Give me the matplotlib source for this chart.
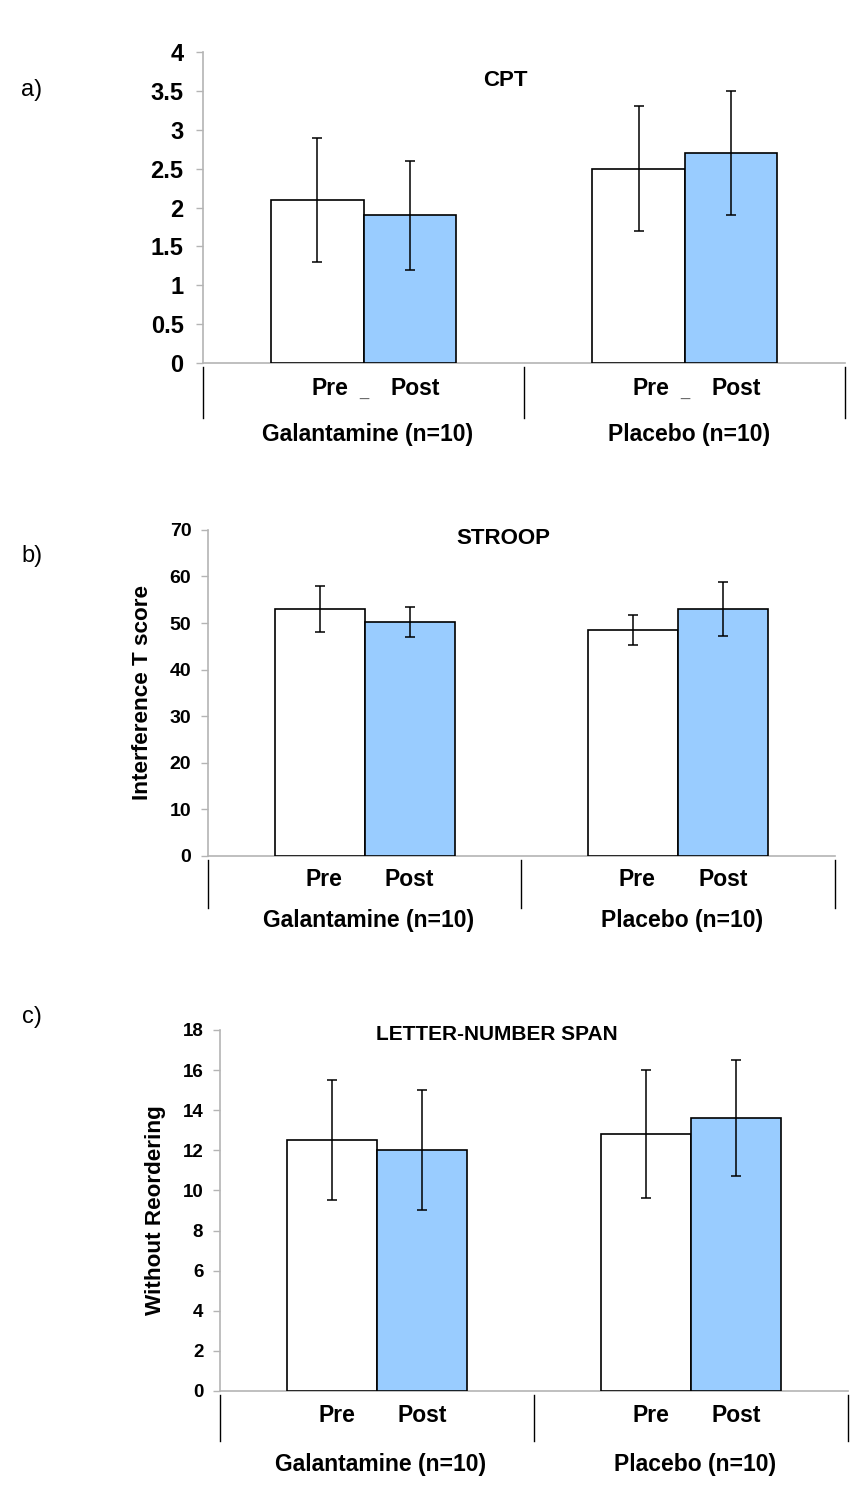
import matplotlib
matplotlib.use("Agg")
import matplotlib.pyplot as plt
import matplotlib.transforms as mtransforms
import numpy as np

plt.rcParams['font.family'] = ['Liberation Sans', 'DejaVu Sans']

groups = ["Galantamine (n=10)", "Placebo (n=10)"]
conditions = ["Pre", "Post"]

cpt_pre = [2.1, 2.5]
cpt_post = [1.9, 2.7]
cpt_pre_err = [0.8, 0.8]
cpt_post_err = [0.7, 0.8]

stroop_pre = [53.0, 48.5]
stroop_post = [50.3, 53.1]
stroop_pre_err = [5.0, 3.3]
stroop_post_err = [3.2, 5.8]

lns_pre = [12.5, 12.8]
lns_post = [12.0, 13.6]
lns_pre_err = [3.0, 3.2]
lns_post_err = [3.0, 2.9]

panels = [
    dict(title="CPT", pre=cpt_pre, post=cpt_post, pre_err=cpt_pre_err, post_err=cpt_post_err,
         ylim=(0, 4), yticks=[0, 0.5, 1, 1.5, 2, 2.5, 3, 3.5, 4],
         yticklabels=["0", "0.5", "1", "1.5", "2", "2.5", "3", "3.5", "4"],
         ylabel=None, rect=[0.2366, 0.7593, 0.7484, 0.2062], tick_fs=17, tick_pad=9,
         letter="a)", letter_y=90, title_x=505, title_y=80, title_fs=16, sep="_",
         cond_dy=26, grp_dy=72, sep_len=55, pre_dx=12, post_dx=6, grp_dx=4),
    dict(title="STROOP", pre=stroop_pre, post=stroop_post, pre_err=stroop_pre_err, post_err=stroop_post_err,
         ylim=(0, 70), yticks=list(range(0, 71, 10)),
         yticklabels=[str(v) for v in range(0, 71, 10)],
         ylabel="Interference T score", ylabel_x=143, rect=[0.2424, 0.4324, 0.7308, 0.2162],
         tick_fs=14, tick_pad=7,
         letter="b)", letter_y=556, title_x=503, title_y=538, title_fs=16, sep=None,
         cond_dy=24, grp_dy=65, sep_len=52, pre_dx=4, post_dx=0, grp_dx=4),
    dict(title="LETTER-NUMBER SPAN", pre=lns_pre, post=lns_post, pre_err=lns_pre_err, post_err=lns_post_err,
         ylim=(0, 18), yticks=list(range(0, 19, 2)),
         yticklabels=[str(v) for v in range(0, 19, 2)],
         ylabel="Without Reordering", ylabel_x=156, rect=[0.2564, 0.0776, 0.7319, 0.2394],
         tick_fs=13.5, tick_pad=7,
         letter="c)", letter_y=1017, title_x=497, title_y=1034, title_fs=15, sep=None,
         cond_dy=25, grp_dy=74, sep_len=50, pre_dx=5, post_dx=0, grp_dx=4),
]

W, H = 858, 1508
fig = plt.figure(figsize=(W / 100, H / 100), dpi=100)

gray = "#b4b4b4"
blue = "#99ccff"
bw = 0.287
centers = np.array([0.5, 1.5])

for p in panels:
    ax = fig.add_axes(p["rect"])
    ax.bar(centers - bw / 2, p["pre"], width=bw, color="white", edgecolor="black", linewidth=1.2, zorder=3)
    ax.bar(centers + bw / 2, p["post"], width=bw, color=blue, edgecolor="black", linewidth=1.2, zorder=3)
    ax.errorbar(centers - bw / 2, p["pre"], yerr=p["pre_err"], fmt="none", ecolor="black",
                elinewidth=1.1, capsize=3.6, capthick=1.1, zorder=4)
    ax.errorbar(centers + bw / 2, p["post"], yerr=p["post_err"], fmt="none", ecolor="black",
                elinewidth=1.1, capsize=3.6, capthick=1.1, zorder=4)
    ax.set_xlim(0, 2)
    ax.set_ylim(*p["ylim"])
    ax.set_yticks(p["yticks"])
    ax.set_yticklabels(p["yticklabels"], fontsize=p["tick_fs"], fontweight="bold")
    ax.tick_params(axis="y", direction="out", length=5, color=gray, width=1, pad=p["tick_pad"])
    ax.set_xticks([])
    for s in ["top", "right"]:
        ax.spines[s].set_visible(False)
    ax.spines["left"].set_color(gray)
    ax.spines["bottom"].set_color(gray)
    ax.spines["left"].set_linewidth(1.2)
    ax.spines["bottom"].set_linewidth(1.2)
    ax.patch.set_alpha(0)

    trans = mtransforms.blended_transform_factory(ax.transData, ax.transAxes)
    hpx = p["rect"][3] * H
    wpx = p["rect"][2] * W
    def ay(px):
        return -px / hpx
    def dx(px):
        return px / wpx * 2
    for xv in [0, 1, 2]:
        ax.plot([xv, xv], [ay(4), ay(p["sep_len"])], color="black", lw=1.0, transform=trans, clip_on=False)
    for i, c in enumerate(centers):
        ax.text(c - bw / 2 + dx(p["pre_dx"]), ay(p["cond_dy"]), conditions[0], transform=trans,
                ha="center", va="center", fontsize=16.5, fontweight="bold")
        ax.text(c + bw / 2 + dx(p["post_dx"]), ay(p["cond_dy"]), conditions[1], transform=trans,
                ha="center", va="center", fontsize=16.5, fontweight="bold")
        if p["sep"]:
            ax.text(c, ay(p["cond_dy"] + 4), p["sep"], transform=trans, ha="center", va="center",
                    fontsize=12, color="#666666")
        ax.text(c + dx(p["grp_dx"]), ay(p["grp_dy"]), groups[i], transform=trans, ha="center",
                va="center", fontsize=16.5, fontweight="bold")

    fig.text(32 / W, 1 - p["letter_y"] / H, p["letter"], fontsize=17, ha="center", va="center")
    fig.text(p["title_x"] / W, 1 - p["title_y"] / H, p["title"], fontsize=p["title_fs"],
             fontweight="bold", ha="center", va="center")
    if p["ylabel"]:
        ycen = p["rect"][1] + p["rect"][3] / 2
        fig.text(p["ylabel_x"] / W, ycen, p["ylabel"], rotation=90, fontsize=16.2, fontweight="bold",
                 ha="center", va="center")

fig.savefig("out.png", dpi=100)
